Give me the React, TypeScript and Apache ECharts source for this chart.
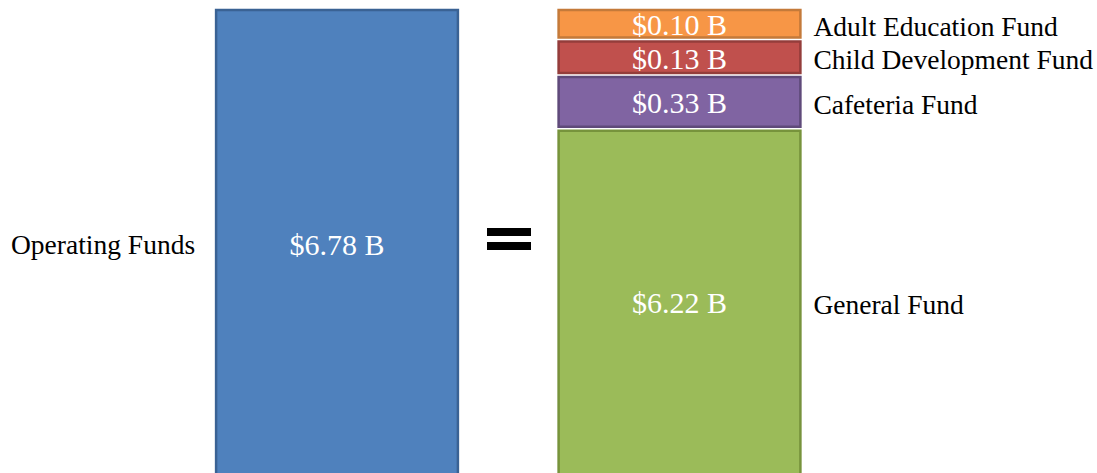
import React, { useEffect, useRef } from "react";
import * as echarts from "echarts";

const columns = ["Operating Funds", "Funds"];
const operatingName = "Operating Funds";
const operatingTotal = 6.78;
const fundNames = ["Adult Education Fund", "Child Development Fund", "Cafeteria Fund", "General Fund"];
const fundValues = [0.1, 0.13, 0.33, 6.22];

const operatingColor = "#4F81BD";
const operatingBorder = "#3A6294";
const fundColors = ["#F79646", "#C0504D", "#8064A2", "#9BBB59"];
const fundBorders = ["#C47A3A", "#943D3B", "#5F4A7A", "#77933C"];

const BAR_RATIO = 0.706;
const GAP = 4;
const SMALL_K = 87; // minimum visual height rule for tiny segments (k * sqrt(value))
const FONT = "'Liberation Serif', 'Times New Roman', serif";
const Y_MIN = 3.5;

const fmt = (v: number) => `$${v.toFixed(2)} B`;

export default function App() {
  const ref = useRef<HTMLDivElement>(null);
  useEffect(() => {
    if (!ref.current) return;
    const chart = echarts.init(ref.current, undefined, { renderer: "svg" });
    const total = fundValues.reduce((a, b) => a + b, 0);

    const option: any = {
      animation: false,
      backgroundColor: "#ffffff",
      grid: { left: 165.75, right: 246.25, top: 10, bottom: 0 },
      xAxis: { type: "category", data: columns, show: false },
      yAxis: { type: "value", min: Y_MIN, max: operatingTotal, show: false },
      graphic: [
        { type: "rect", shape: { x: 487, y: 228, width: 44, height: 8 }, style: { fill: "#000" } },
        { type: "rect", shape: { x: 487, y: 242, width: 44, height: 8 }, style: { fill: "#000" } },
      ],
      series: [
        {
          type: "custom",
          name: operatingName,
          clip: false,
          data: [[0, operatingTotal]],
          renderItem: (params: any, api: any) => {
            const v = api.value(1);
            const bandW = api.size([1, 0])[0];
            const w = bandW * BAR_RATIO;
            const top = api.coord([0, v]);
            const cx = top[0];
            const y = top[1];
            const bottom = api.coord([0, Y_MIN])[1];
            const h = Math.min(api.size([0, v])[1], bottom + 10 - y);
            const ty = (y + Math.min(y + h, bottom)) / 2 + 3;
            return {
              type: "group",
              children: [
                {
                  type: "rect",
                  shape: { x: cx - w / 2, y, width: w, height: h },
                  style: { fill: operatingColor, stroke: operatingBorder, lineWidth: 2.5 },
                },
                {
                  type: "text",
                  style: {
                    text: fmt(v), x: cx, y: ty, align: "center", verticalAlign: "middle",
                    fill: "#ffffff", font: `30px ${FONT}`,
                  },
                },
                {
                  type: "text",
                  style: {
                    text: operatingName, x: cx - w / 2 - 21, y: ty, align: "right", verticalAlign: "middle",
                    fill: "#000000", font: `27.5px ${FONT}`,
                  },
                },
              ],
            };
          },
        },
        {
          type: "custom",
          name: "Funds",
          clip: false,
          data: fundValues.map((v, i) => [1, v, i]),
          renderItem: (params: any, api: any) => {
            const i = params.dataIndex;
            const v = fundValues[i];
            const bandW = api.size([1, 0])[0];
            const w = bandW * BAR_RATIO;
            const topPt = api.coord([1, total]);
            const cx = topPt[0];
            const heights = fundValues.map((fv) => Math.max(api.size([1, fv])[1], SMALL_K * Math.sqrt(fv)));
            let y = topPt[1];
            for (let j = 0; j < i; j++) y += heights[j] + GAP;
            const bottom = api.coord([1, Y_MIN])[1];
            const h = Math.min(heights[i], bottom + 10 - y);
            const ty = (y + Math.min(y + h, bottom)) / 2 + 1;
            return {
              type: "group",
              children: [
                {
                  type: "rect",
                  shape: { x: cx - w / 2, y, width: w, height: h },
                  style: { fill: fundColors[i], stroke: fundBorders[i], lineWidth: 2.5 },
                },
                {
                  type: "text",
                  style: {
                    text: fmt(v), x: cx, y: ty, align: "center", verticalAlign: "middle",
                    fill: "#ffffff", font: `30px ${FONT}`,
                  },
                },
                {
                  type: "text",
                  style: {
                    text: fundNames[i], x: cx + w / 2 + 13, y: ty + 1.5, align: "left", verticalAlign: "middle",
                    fill: "#000000", font: `27.5px ${FONT}`,
                  },
                },
              ],
            };
          },
        },
      ],
    };
    chart.setOption(option);
    return () => chart.dispose();
  }, []);

  return (
    <div
      ref={ref}
      style={{ position: "absolute", left: 0, top: 0, width: 1097, height: 473, background: "#fff" }}
    />
  );
}
